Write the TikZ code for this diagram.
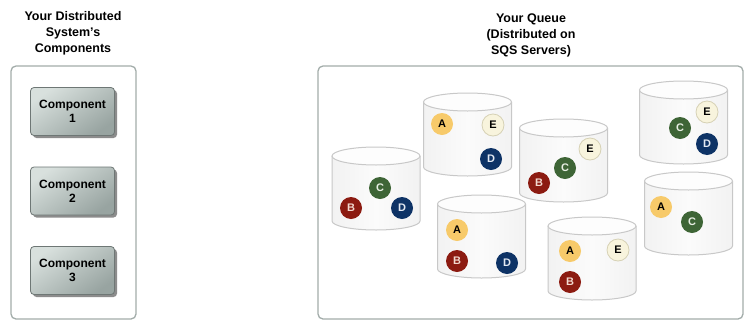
\documentclass[tikz,border=0pt]{standalone}
\usepackage{fontspec}
\setmainfont{Liberation Sans}
\usetikzlibrary{shadows}
\definecolor{panelc}{HTML}{A3ADAA}
\definecolor{compborder}{HTML}{6E7775}
\definecolor{compT}{HTML}{D8E0DD}
\definecolor{compB}{HTML}{98A4A1}
\definecolor{cylE}{HTML}{C8C8C8}
\definecolor{cylL}{HTML}{F2F2F2}
\definecolor{cylM}{HTML}{FBFBFB}
\definecolor{cylT}{HTML}{FDFDFD}
\definecolor{colA}{HTML}{F7CA6A}
\definecolor{colB}{HTML}{8C1B11}
\definecolor{colC}{HTML}{3E6536}
\definecolor{colD}{HTML}{0E3366}
\definecolor{colE}{HTML}{F8F4DD}
\definecolor{colEb}{HTML}{D6D1B5}
\definecolor{txtB}{HTML}{F2D9CF}
\definecolor{txtC}{HTML}{E8EFE4}
\definecolor{txtD}{HTML}{E3E9F2}
\tikzset{
  panelbox/.style={draw=panelc, line width=1.3pt, rounded corners=5pt, fill=white},
  titletext/.style={font=\bfseries\fontsize{12.5}{16}\selectfont, align=center, inner sep=0pt},
  compbox/.style={draw=compborder, line width=0.8pt, rounded corners=3.5pt,
    minimum width=84pt, minimum height=48pt, inner sep=0pt,
    top color=compT, bottom color=compB, shading angle=35,
    font=\bfseries\fontsize{12}{14}\selectfont, align=center,
    drop shadow={shadow xshift=2.5pt, shadow yshift=-2.5pt, fill=black!45, opacity=1}},
  cylbody/.style={left color=cylL, right color=cylL, middle color=cylM},
  cyledge/.style={draw=cylE, line width=1pt},
  tok/.style={circle, minimum size=22pt, inner sep=0pt, font=\bfseries\fontsize{11}{12}\selectfont},
  tokA/.style={tok, fill=colA, text=black},
  tokB/.style={tok, fill=colB, text=txtB},
  tokC/.style={tok, fill=colC, text=txtC},
  tokD/.style={tok, fill=colD, text=txtD},
  tokE/.style={tok, fill=colE, draw=colEb, line width=0.8pt, text=black},
}
\newcommand\qcyl[3]{%
  \coordinate (#1) at (#2,#3);
  \path[cylbody] ({#2-44},#3) -- ({#2-44},{#3+65}) arc[start angle=180,end angle=360,x radius=44pt,y radius=9pt] -- ({#2+44},#3) -- cycle;
  \draw[cyledge] ({#2-44},#3) -- ({#2-44},{#3+65}) arc[start angle=180,end angle=360,x radius=44pt,y radius=9pt] -- ({#2+44},#3);
  \draw[cyledge, fill=cylT] (#2,#3) ellipse [x radius=44pt, y radius=9pt];
}
\begin{document}
\begin{tikzpicture}[x=1pt,y=-1pt]
\useasboundingbox[fill=white] (0,0) rectangle (752,327);
% titles
\node[titletext] (t1) at (73,33) {Your Distributed\\System’s\\Components};
\node[titletext] (t2) at (531,35.5) {Your Queue\\(Distributed on\\SQS Servers)};
% panels
\draw[panelbox] (11,66) rectangle (136,319);
\draw[panelbox] (318,66) rectangle (743,319);
% components
\node[compbox] (comp1) at (72.5,111.5) {Component\\1};
\node[compbox] (comp2) at (72.5,191) {Component\\2};
\node[compbox] (comp3) at (72.5,270.5) {Component\\3};
% cylinders
\qcyl{s1}{376}{156}
\node[tokC] (s1c) at (380,188) {C};
\node[tokB] (s1b) at (351,208) {B};
\node[tokD] (s1d) at (402,208) {D};
\qcyl{s2}{467.5}{102}
\node[tokA] (s2a) at (442,124) {A};
\node[tokE] (s2e) at (493,125) {E};
\node[tokD] (s2d) at (491,159) {D};
\qcyl{s3}{563.5}{128}
\node[tokE] (s3e) at (590,149) {E};
\node[tokC] (s3c) at (565,168) {C};
\node[tokB] (s3b) at (539,183) {B};
\qcyl{s4}{683.5}{90}
\node[tokE] (s4e) at (707,112) {E};
\node[tokC] (s4c) at (680,128) {C};
\node[tokD] (s4d) at (707,144) {D};
\qcyl{s5}{688.5}{181}
\node[tokA] (s5a) at (661,207) {A};
\node[tokC] (s5c) at (692,222) {C};
\qcyl{s6}{481.5}{204}
\node[tokA] (s6a) at (457,230) {A};
\node[tokB] (s6b) at (457,261) {B};
\node[tokD] (s6d) at (507,263) {D};
\qcyl{s7}{592}{226}
\node[tokA] (s7a) at (570,251) {A};
\node[tokE] (s7e) at (618,250) {E};
\node[tokB] (s7b) at (570,282) {B};
\end{tikzpicture}
\end{document}
